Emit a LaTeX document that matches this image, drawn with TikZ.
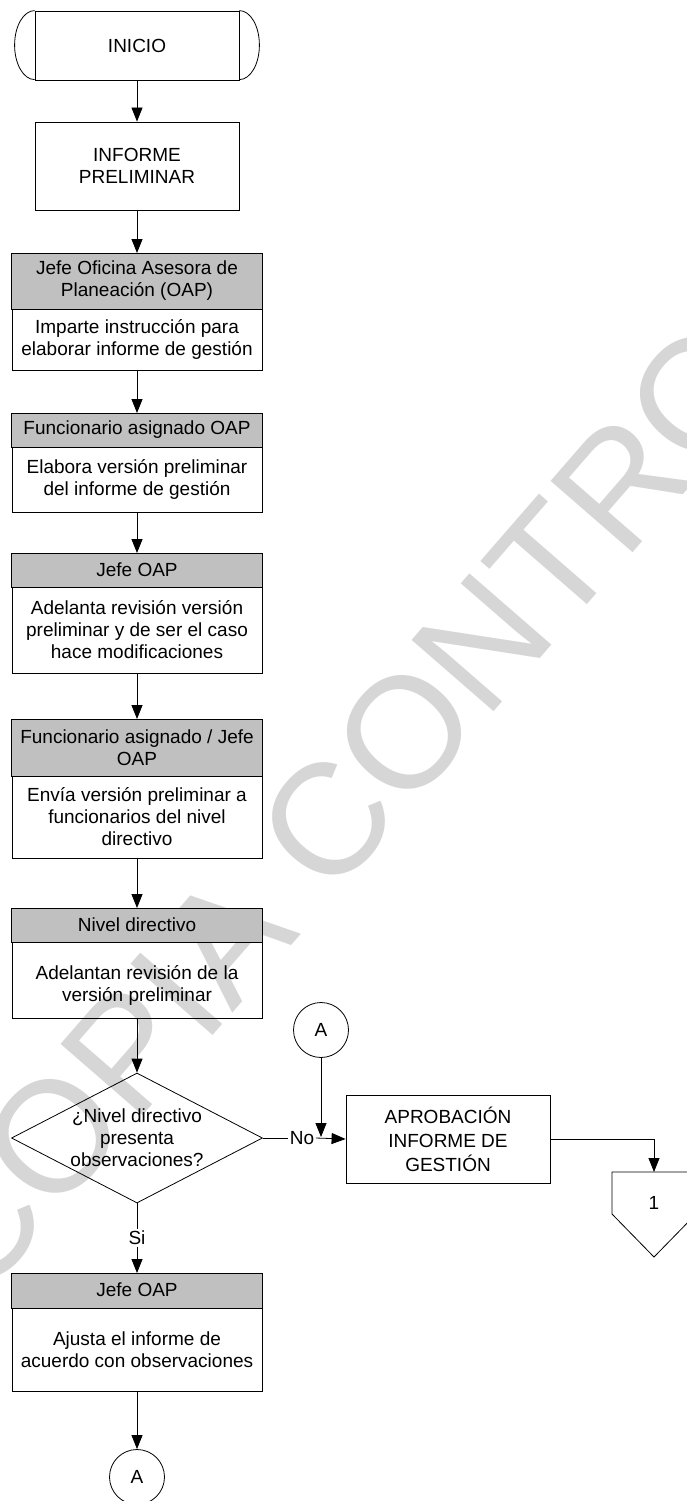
\documentclass[tikz,border=0pt]{standalone}
\usepackage{fontspec}
\setmainfont{Liberation Sans}
\usetikzlibrary{arrows.meta,shapes.geometric}
\definecolor{hdrgray}{RGB}{192,192,192}
\definecolor{wmgray}{RGB}{214,214,214}
\begin{document}
\begin{tikzpicture}[x=1pt,y=-1pt,
  every node/.style={font=\fontsize{19}{22}\selectfont, inner sep=0pt},
  ln/.style={draw=black, line width=0.8pt},
  arr/.style={ln, -{Triangle[length=14pt,width=11pt]}},
  hdr/.style={ln, fill=hdrgray},
  procbox/.style={ln, minimum width=204pt, align=center},
  actbox/.style={ln, minimum width=250pt, anchor=north},
  txt/.style={align=center},
  lbl/.style={inner sep=1.5pt},
  conn/.style={ln, circle, minimum size=55pt}
]
\useasboundingbox (0,0) rectangle (686,1501);

% watermark
\node[rotate=49, anchor=base west, text=wmgray, font=\fontsize{158}{158}\selectfont] (wm) at (-21,1305) {COPIA CONTROLADA};

% INICIO terminal
\node[ln, minimum width=204pt, minimum height=69pt] (inicio) at (137,45.5) {INICIO};
\draw[ln] (inicio.north west) arc[start angle=90, end angle=270, x radius=20pt, y radius=34.5pt];
\draw[ln] (inicio.north east) arc[start angle=90, end angle=-90, x radius=20pt, y radius=34.5pt];

% INFORME PRELIMINAR
\node[procbox, minimum height=88pt] (inf) at (137,166) {INFORME\\PRELIMINAR};

% b3
\node[actbox, minimum height=117pt] (b3) at (137,253) {};
\draw[hdr] (b3.north west) rectangle ([yshift=-56pt]b3.north east);
\node[txt] (b3h) at (137,281) {Jefe Oficina Asesora de\\Planeación (OAP)};
\node[txt] (b3t) at (137,339.5) {Imparte instrucción para\\elaborar informe de gestión};

% b4
\node[actbox, minimum height=99pt] (b4) at (137,413) {};
\draw[hdr] (b4.north west) rectangle ([yshift=-34pt]b4.north east);
\node[txt] (b4h) at (137,430) {Funcionario asignado OAP};
\node[txt] (b4t) at (137,479) {Elabora versión preliminar\\del informe de gestión};

% b5
\node[actbox, minimum height=120pt] (b5) at (137,553) {};
\draw[hdr] (b5.north west) rectangle ([yshift=-34pt]b5.north east);
\node[txt] (b5h) at (137,570) {Jefe OAP};
\node[txt] (b5t) at (137,630) {Adelanta revisión versión\\preliminar y de ser el caso\\hace modificaciones};

% b6
\node[actbox, minimum height=139pt] (b6) at (137,719) {};
\draw[hdr] (b6.north west) rectangle ([yshift=-57pt]b6.north east);
\node[txt] (b6h) at (137,747.5) {Funcionario asignado / Jefe\\OAP};
\node[txt] (b6t) at (137,817) {Envía versión preliminar a\\funcionarios del nivel\\directivo};

% b7
\node[actbox, minimum height=110pt] (b7) at (137,908) {};
\draw[hdr] (b7.north west) rectangle ([yshift=-34pt]b7.north east);
\node[txt] (b7h) at (137,925) {Nivel directivo};
\node[txt] (b7t) at (137,985) {Adelantan revisión de la\\versión preliminar};

% decision
\node[ln, diamond, minimum width=251pt, minimum height=130pt] (dia) at (137,1138) {};
\node[txt] (diat) at (137,1138) {¿Nivel directivo\\presenta\\observaciones?};

% Si branch
\node[lbl] (si) at (137,1238) {Si};
\node[actbox, minimum height=118pt] (b9) at (137,1273) {};
\draw[hdr] (b9.north west) rectangle ([yshift=-35pt]b9.north east);
\node[txt] (b9h) at (137,1290) {Jefe OAP};
\node[txt] (b9t) at (137,1350) {Ajusta el informe de\\acuerdo con observaciones};
\node[conn] (abot) at (137,1477) {A};

% No branch
\node[lbl] (no) at (302,1138) {No};
\node[procbox, minimum height=88pt, font=\fontsize{19}{24}\selectfont] (apr) at (448,1139) {APROBACIÓN\\INFORME DE\\GESTIÓN};
\node[conn] (atop) at (321,1030) {A};
\coordinate (join) at (321,1137);
\coordinate (pent) at (654,1172);
\draw[ln] (612,1172) -- (696,1172) -- (696,1214) -- (654,1257) -- (612,1214) -- cycle;
\node (one) at (654,1203) {1};

% connectors
\draw[arr] (inicio.south) -- (inf.north);
\draw[arr] (inf.south) -- (b3.north);
\draw[arr] (b3.south) -- (b4.north);
\draw[arr] (b4.south) -- (b5.north);
\draw[arr] (b5.south) -- (b6.north);
\draw[arr] (b6.south) -- (b7.north);
\draw[arr] (b7.south) -- (dia.north);
\draw[ln] (dia.south) -- (si.north);
\draw[arr] (si.south) -- (b9.north);
\draw[arr] (b9.south) -- (abot.north);
\draw[ln] (dia.east) -- (no.west);
\draw[arr] (no.east) -- (apr.west);
\draw[arr] (atop.south) -- (join);
\draw[arr] (apr.east) -| (pent);
\end{tikzpicture}
\end{document}
